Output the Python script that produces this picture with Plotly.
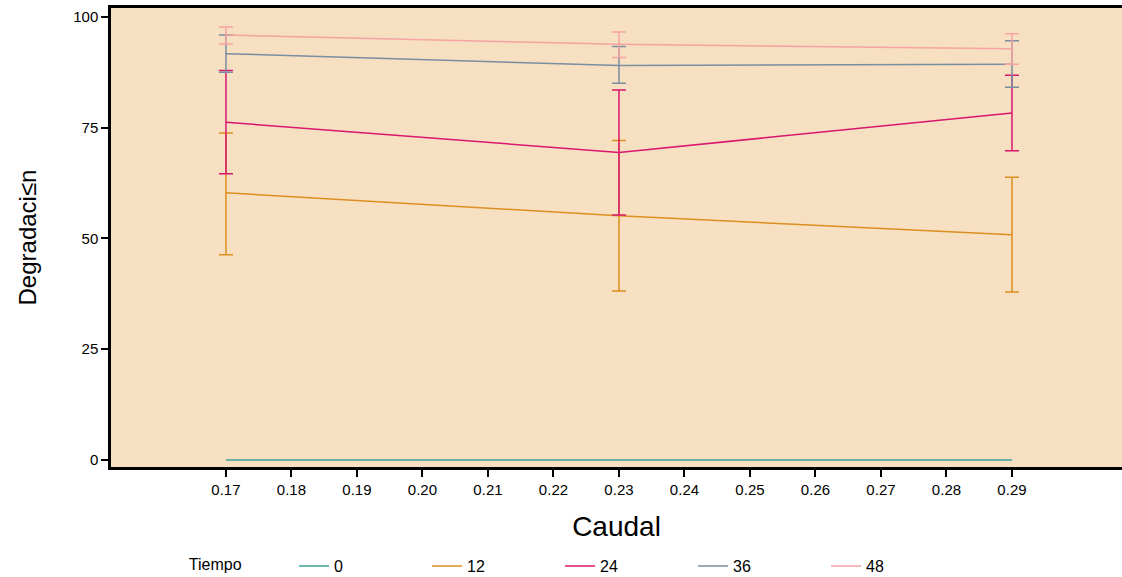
import plotly.graph_objects as go

caudal = [0.17, 0.23, 0.29]
tiempos = ["0", "12", "24", "36", "48"]
mean = {
    "0": [0, 0, 0],
    "12": [60.3, 55.1, 50.8],
    "24": [76.2, 69.4, 78.3],
    "36": [91.7, 89.0, 89.3],
    "48": [95.9, 93.8, 92.8],
}
upper = {
    "0": [0, 0, 0],
    "12": [73.8, 72.1, 63.8],
    "24": [87.9, 83.5, 86.8],
    "36": [95.9, 93.3, 94.6],
    "48": [97.7, 96.6, 96.2],
}
lower = {
    "0": [0, 0, 0],
    "12": [46.3, 38.1, 37.9],
    "24": [64.6, 55.3, 69.8],
    "36": [87.5, 85.0, 84.1],
    "48": [93.9, 90.8, 89.3],
}
colors = {"0": "#3a9e9a", "12": "#dc8e1e", "24": "#d9176f", "36": "#7a8ea0", "48": "#f5a3a3"}
x_ticks = [0.17, 0.18, 0.19, 0.20, 0.21, 0.22, 0.23, 0.24, 0.25, 0.26, 0.27, 0.28, 0.29]
y_ticks = [0, 25, 50, 75, 100]

fig = go.Figure()
for t in tiempos:
    m = mean[t]
    has_err = any(u != v for u, v in zip(upper[t], m))
    fig.add_trace(go.Scatter(
        x=caudal, y=m, mode="lines", name=t,
        line=dict(color=colors[t], width=1.5),
        error_y=dict(
            type="data", symmetric=False,
            array=[u - v for u, v in zip(upper[t], m)],
            arrayminus=[v - l for v, l in zip(m, lower[t])],
            color=colors[t], thickness=1.5, width=7, visible=has_err,
        ),
    ))

font = "Liberation Sans, Arial, sans-serif"
fig.update_layout(
    width=1122, height=577,
    margin=dict(l=111, r=0, t=8, b=110, autoexpand=False),
    paper_bgcolor="white",
    plot_bgcolor="#f7dfc2",
    font=dict(family=font, size=15, color="black"),
    showlegend=True,
    legend=dict(
        orientation="h", x=0.075, y=-0.216, xanchor="left", yanchor="middle",
        title=dict(text="Tiempo" + "&nbsp;" * 10, font=dict(size=16), side="left"),
        entrywidth=88, entrywidthmode="pixels",
        font=dict(size=16), bgcolor="rgba(0,0,0,0)",
    ),
)
fig.update_xaxes(
    range=[0.15245, 0.3068], tickvals=x_ticks, ticktext=[f"{v:.2f}" for v in x_ticks],
    showgrid=False, zeroline=False, showline=True, linecolor="black", linewidth=2.5,
    mirror=True, ticks="outside", ticklen=7, tickwidth=1.5, tickcolor="black",
    title=dict(text="Caudal", font=dict(size=28), standoff=20),
    tickfont=dict(size=15), automargin=False,
)
fig.update_yaxes(
    range=[-1.6, 102.0], tickvals=y_ticks,
    showgrid=False, zeroline=False, showline=True, linecolor="black", linewidth=2.5,
    ticks="outside", ticklen=7, tickwidth=1.5, tickcolor="black",
    title=dict(text="Degradaci≤n", font=dict(size=24), standoff=30),
    tickfont=dict(size=15), automargin=False,
)
fig.write_html("out.html")
